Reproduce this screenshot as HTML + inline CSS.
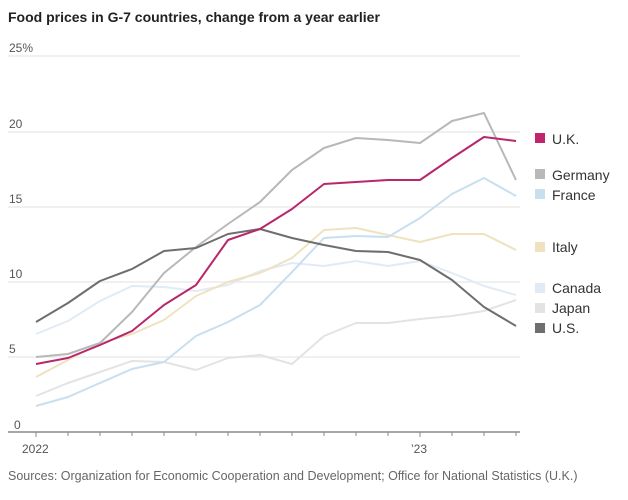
<!DOCTYPE html><html><head><style>body{margin:0;background:#fff;width:628px;height:495px;overflow:hidden;font-family:"Liberation Sans",sans-serif}</style></head><body>
<svg width="628" height="495" xmlns="http://www.w3.org/2000/svg" font-family="Liberation Sans, sans-serif">
<text x="8" y="22" font-size="14" font-weight="bold" fill="#222">Food prices in G-7 countries, change from a year earlier</text>
<g stroke="#ebebeb" stroke-width="1.5">
<line x1="8" x2="520" y1="56" y2="56"/><line x1="8" x2="520" y1="132" y2="132"/><line x1="8" x2="520" y1="207" y2="207"/><line x1="8" x2="520" y1="282" y2="282"/><line x1="8" x2="520" y1="357" y2="357"/></g>
<g font-size="12" fill="#555"><text x="9" y="52">25%</text><text x="9" y="128">20</text><text x="9" y="203">15</text><text x="9" y="278">10</text><text x="9" y="353">5</text><text x="14" y="429">0</text>
<text x="22" y="453">2022</text><text x="411" y="453">’23</text></g>
<line x1="8" x2="520" y1="432" y2="432" stroke="#888" stroke-width="1.5"/>
<g stroke="#888" stroke-width="1">
<line x1="36" x2="36" y1="432" y2="437"/><line x1="68" x2="68" y1="432" y2="436"/><line x1="100" x2="100" y1="432" y2="436"/><line x1="132" x2="132" y1="432" y2="436"/><line x1="164" x2="164" y1="432" y2="436"/><line x1="196" x2="196" y1="432" y2="436"/><line x1="228" x2="228" y1="432" y2="436"/><line x1="260" x2="260" y1="432" y2="436"/><line x1="292" x2="292" y1="432" y2="436"/><line x1="324" x2="324" y1="432" y2="436"/><line x1="356" x2="356" y1="432" y2="436"/><line x1="388" x2="388" y1="432" y2="436"/><line x1="420" x2="420" y1="432" y2="437"/><line x1="452" x2="452" y1="432" y2="436"/><line x1="484" x2="484" y1="432" y2="436"/><line x1="516" x2="516" y1="432" y2="436"/></g>
<g fill="none" stroke-width="2" stroke-linejoin="round">
<polyline stroke="#e3e3e3" points="36,396 68,383 100,372 132,361 164,362 196,370 228,358 260,355 292,364 324,336 356,323 388,323 420,319 452,316 484,311 516,300"/>
<polyline stroke="#e1ebf5" points="36,334 68,321 100,301 132,286 164,287 196,291 228,285 260,271 292,263 324,266 356,261 388,266 420,261 452,273 484,286 516,295"/>
<polyline stroke="#efe2c0" points="36,377 68,360 100,343 132,334 164,320 196,296 228,282 260,273 292,258 324,230 356,228 388,235 420,242 452,234 484,234 516,250"/>
<polyline stroke="#c8dff0" points="36,406 68,397 100,383 132,369 164,362 196,336 228,322 260,305 292,272 324,238 356,236 388,237 420,218 452,194 484,178 516,196"/>
<polyline stroke="#b8b8b8" points="36,357 68,354 100,343 132,312 164,273 196,247 228,224 260,202 292,170 324,148 356,138 388,140 420,143 452,121 484,113 516,180"/>
<polyline stroke="#6e6e6e" points="36,322 68,303 100,281 132,269 164,251 196,248 228,234 260,229 292,238 324,245 356,251 388,252 420,260 452,280 484,307 516,326"/>
<polyline stroke="#b8276b" points="36,364 68,358 100,345 132,331 164,305 196,285 228,240 260,229 292,209 324,184 356,182 388,180 420,180 452,158 484,137 516,141"/>
</g>
<g font-size="14" fill="#333">
<rect x="535" y="133" width="10" height="10" fill="#c0266c"/><text x="552" y="144">U.K.</text>
<rect x="535" y="169" width="10" height="10" fill="#b8b8b8"/><text x="552" y="180">Germany</text>
<rect x="535" y="189" width="10" height="10" fill="#c8dff0"/><text x="552" y="200">France</text>
<rect x="535" y="242" width="10" height="10" fill="#efe2c0"/><text x="552" y="252">Italy</text>
<rect x="535" y="283" width="10" height="10" fill="#e1ebf5"/><text x="552" y="293">Canada</text>
<rect x="535" y="303" width="10" height="10" fill="#e3e3e3"/><text x="552" y="313">Japan</text>
<rect x="535" y="323" width="10" height="10" fill="#6e6e6e"/><text x="552" y="333">U.S.</text>
</g>
<text x="8" y="480" font-size="12.5" fill="#666">Sources: Organization for Economic Cooperation and Development; Office for National Statistics (U.K.)</text>
</svg></body></html>
